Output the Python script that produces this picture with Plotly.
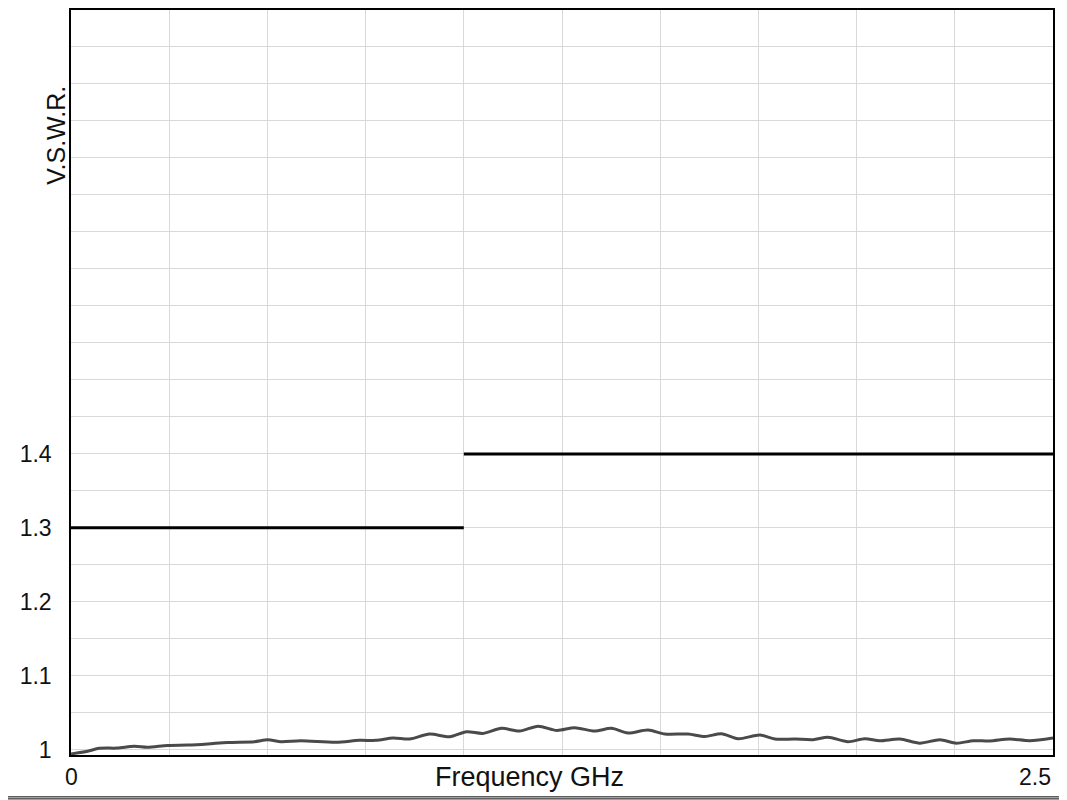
import plotly.graph_objects as go

# Measured VSWR vs frequency (GHz)
freq_ghz = [0.000, 0.042, 0.072, 0.118, 0.161, 0.195, 0.246, 0.297, 0.348, 0.399,
            0.467, 0.501, 0.535, 0.585, 0.675, 0.734, 0.777, 0.820, 0.862, 0.913,
            0.964, 1.007, 1.049, 1.096, 1.142, 1.189, 1.237, 1.282, 1.333, 1.376,
            1.418, 1.469, 1.512, 1.571, 1.614, 1.656, 1.698, 1.754, 1.792, 1.843,
            1.889, 1.927, 1.978, 2.021, 2.059, 2.110, 2.161, 2.212, 2.254, 2.297,
            2.339, 2.390, 2.441, 2.500]
vswr = [0.9945, 0.998, 1.002, 1.0024, 1.0047, 1.0034, 1.006, 1.0065, 1.008, 1.010,
        1.011, 1.0136, 1.011, 1.0123, 1.0102, 1.0128, 1.0128, 1.016, 1.0146, 1.0213,
        1.0177, 1.0244, 1.0222, 1.029, 1.0253, 1.032, 1.0262, 1.030, 1.0253, 1.029,
        1.0226, 1.0267, 1.0213, 1.0213, 1.018, 1.0217, 1.015, 1.020, 1.0146, 1.0146,
        1.0137, 1.017, 1.011, 1.015, 1.0123, 1.0146, 1.009, 1.0137, 1.009, 1.0123,
        1.0119, 1.0146, 1.0123, 1.016]

# Specification limit bands: (start GHz, end GHz, max VSWR)
spec_start = [0.0, 1.0]
spec_end = [1.0, 2.5]
spec_limit = [1.3, 1.4]

# Axis ticks
y_tickvals = [round(1.0 + 0.05 * i, 2) for i in range(21)]
y_labels = {1.0: "1", 1.1: "1.1", 1.2: "1.2", 1.3: "1.3", 1.4: "1.4"}
x_tickvals = [0.25 * i for i in range(11)]
x_labels = {0.0: "0", 2.5: "2.5"}
x_title = "Frequency GHz"
y_title = "V.S.W.R."

FONT = "Liberation Sans, Arial, sans-serif"
GRID = "#d9d9d9"
TXT = "#111111"

fig = go.Figure()

for s, e, lim in zip(spec_start, spec_end, spec_limit):
    fig.add_trace(go.Scatter(x=[s, e], y=[lim, lim], mode="lines",
                             line=dict(color="#000000", width=3),
                             showlegend=False, hoverinfo="skip"))

fig.add_trace(go.Scatter(x=freq_ghz, y=vswr, mode="lines",
                         line=dict(color="#4a4a4a", width=3, shape="spline", smoothing=0.8),
                         showlegend=False))

# page body has an 8px default margin; compensate so the plot lands where it should
fig.update_layout(
    width=1059, height=792,
    margin=dict(l=63, r=14, t=0, b=45),
    paper_bgcolor="white", plot_bgcolor="white",
    font=dict(family=FONT, size=23, color=TXT),
    showlegend=False,
)

fig.update_xaxes(
    range=[0, 2.5], tickmode="array", tickvals=x_tickvals,
    ticktext=["" for _ in x_tickvals],
    showgrid=True, gridcolor=GRID, gridwidth=1, zeroline=False,
    showline=True, linecolor="#000000", linewidth=1.5, mirror=True,
    ticks="", fixedrange=True,
)
fig.update_yaxes(
    range=[0.993, 2.0], tickmode="array", tickvals=y_tickvals,
    ticktext=[y_labels.get(v, "") for v in y_tickvals],
    showgrid=True, gridcolor=GRID, gridwidth=1, zeroline=False,
    showline=True, linecolor="#000000", linewidth=1.5, mirror=True,
    ticks="outside", ticklen=13, tickcolor="rgba(0,0,0,0)",
    tickfont=dict(size=23, family=FONT, color=TXT),
)

# x tick labels (0 centred, 2.5 right-aligned to the plot edge)
for xv, txt in x_labels.items():
    fig.add_annotation(x=xv, xref="x", y=0, yref="paper", yanchor="middle",
                       xanchor="center" if xv == 0 else "right",
                       yshift=-22, text=txt, showarrow=False,
                       font=dict(size=23, family=FONT, color=TXT))

# axis titles
fig.add_annotation(x=0.5, xref="paper", y=0, yref="paper", yanchor="middle",
                   xanchor="center", yshift=-22, xshift=-33, text=x_title, showarrow=False,
                   font=dict(size=27, family=FONT, color=TXT))
fig.add_annotation(x=-0.0148, xref="paper", y=0.8317, yref="paper",
                   xanchor="center", yanchor="middle", textangle=-90,
                   text=y_title, showarrow=False,
                   font=dict(size=25, family=FONT, color=TXT))

# page border lines at the bottom
for yp in [-0.0562, -0.0589]:
    fig.add_shape(type="line", xref="paper", yref="paper",
                  x0=-0.08, x1=1.02, y0=yp, y1=yp,
                  line=dict(color="#000000", width=1))

fig.write_html("out.html")
